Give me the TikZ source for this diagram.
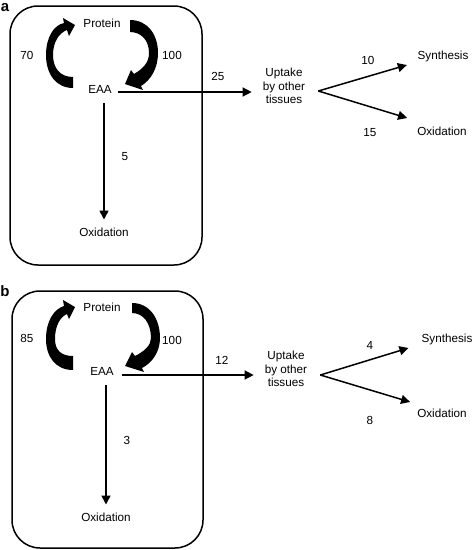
\documentclass[tikz,border=0pt]{standalone}
\usepackage{fontspec}
\setmainfont{Liberation Sans}
\usetikzlibrary{arrows.meta}
\begin{document}
\begin{tikzpicture}[x=1pt,y=-1pt,
  lbl/.style={font=\fontsize{11.7}{13.5}\selectfont, inner sep=0pt},
  tag/.style={font=\fontsize{15}{15}\selectfont\bfseries, inner sep=0pt},
  panel/.style={draw, line width=1.5pt, rounded corners=28pt, inner sep=0pt},
  arr/.style={line width=1.5pt, -{Triangle[length=9pt,width=9pt]}},
  flow/.style={fill=black}]
\useasboundingbox (0,0) rectangle (472,550);

% ---------------- panel a ----------------
\node[tag] (taga) at (5,8) {a};
\node[panel, minimum width=192pt, minimum height=259pt] (boxa) at (106,135.5) {};
\node[lbl] (prota) at (102,23) {Protein};
\node[lbl] (eaaa) at (100,89) {EAA};
\node[lbl] (oxa) at (104,232) {Oxidation};
\node[lbl, align=center] (upa) at (284,86) {Uptake\\by other\\tissues};
\node[lbl] (syna) at (443,56) {Synthesis};
\node[lbl] (oxba) at (442,131) {Oxidation};
\node[lbl] (l70a) at (27,55) {70};
\node[lbl] (l100a) at (172,55) {100};
\node[lbl] (l25a) at (218,76) {25};
\node[lbl] (l5a) at (125,157) {5};
\node[lbl] (l10a) at (368,60) {10};
\node[lbl] (l15a) at (370,133) {15};

\fill[flow] (73,77) -- (73,88) .. controls (56,88) and (46,74) .. (46,55)
  .. controls (46,37) and (54,25) .. (64,23) -- (63,18) -- (75,25) -- (69,36) -- (67,30)
  .. controls (59,33) and (53,42) .. (53,55) .. controls (53,68) and (60,77) .. (73,77) -- cycle;
\fill[flow] (130,20) .. controls (148,20) and (158,35) .. (158,53)
  .. controls (158,68) and (151,80) .. (141,86) -- (143,90) -- (125,84) -- (131,70) -- (134,74)
  .. controls (144,68) and (149,62) .. (149,53) .. controls (149,40) and (141,32) .. (130,32) -- cycle;

\draw[arr] ([shift={(6,3)}]eaaa.east) -- ([shift={(-11,6)}]upa.west);
\draw[arr] ([shift={(4,10)}]eaaa.south) -- ([shift={(0,-8)}]oxa.north);
\draw[arr] ([shift={(13,5)}]upa.east) -- ([shift={(-10.6,9)}]syna.west);
\draw[arr] ([shift={(13,5)}]upa.east) -- ([shift={(-10,-13)}]oxba.west);

% ---------------- panel b ----------------
\begin{scope}[yshift=-283pt]
\node[tag] (tagb) at (5,8) {b};
\node[panel, minimum width=191pt, minimum height=257pt] (boxb) at (107.5,136.5) {};
\node[lbl] (protb) at (102,24) {Protein};
\node[lbl] (eaab) at (102,88) {EAA};
\node[lbl] (oxb) at (106,234) {Oxidation};
\node[lbl, align=center] (upb) at (286,86) {Uptake\\by other\\tissues};
\node[lbl] (synb) at (447,56) {Synthesis};
\node[lbl] (oxbb) at (442,130) {Oxidation};
\node[lbl] (l85b) at (27,55) {85};
\node[lbl] (l100b) at (172,57) {100};
\node[lbl] (l12b) at (222,77) {12};
\node[lbl] (l3b) at (127,157) {3};
\node[lbl] (l4b) at (370,62) {4};
\node[lbl] (l8b) at (370,137) {8};

\fill[flow] (73,73) -- (73,87) .. controls (55,87) and (46,73) .. (46,56)
  .. controls (46,38) and (54,26) .. (64,23) -- (63,17) -- (75,24) -- (69,36) -- (67,31)
  .. controls (60,34) and (55,43) .. (55,56) .. controls (55,67) and (61,73) .. (73,73) -- cycle;
\fill[flow] (132,20) .. controls (150,20) and (160,36) .. (160,55)
  .. controls (160,69) and (152,80) .. (142,85) -- (144,89) -- (125,83) -- (132,69) -- (135,73)
  .. controls (145,68) and (151,62) .. (151,55) .. controls (151,40) and (143,30) .. (132,30) -- cycle;

\draw[arr] ([shift={(8,4)}]eaab.east) -- ([shift={(-11,6)}]upb.west);
\draw[arr] ([shift={(4,10)}]eaab.south) -- ([shift={(0,-8)}]oxb.north);
\draw[arr] ([shift={(13,6)}]upb.east) -- ([shift={(-13,9)}]synb.west);
\draw[arr] ([shift={(13,6)}]upb.east) -- ([shift={(-7,-11)}]oxbb.west);
\end{scope}
\end{tikzpicture}
\end{document}
